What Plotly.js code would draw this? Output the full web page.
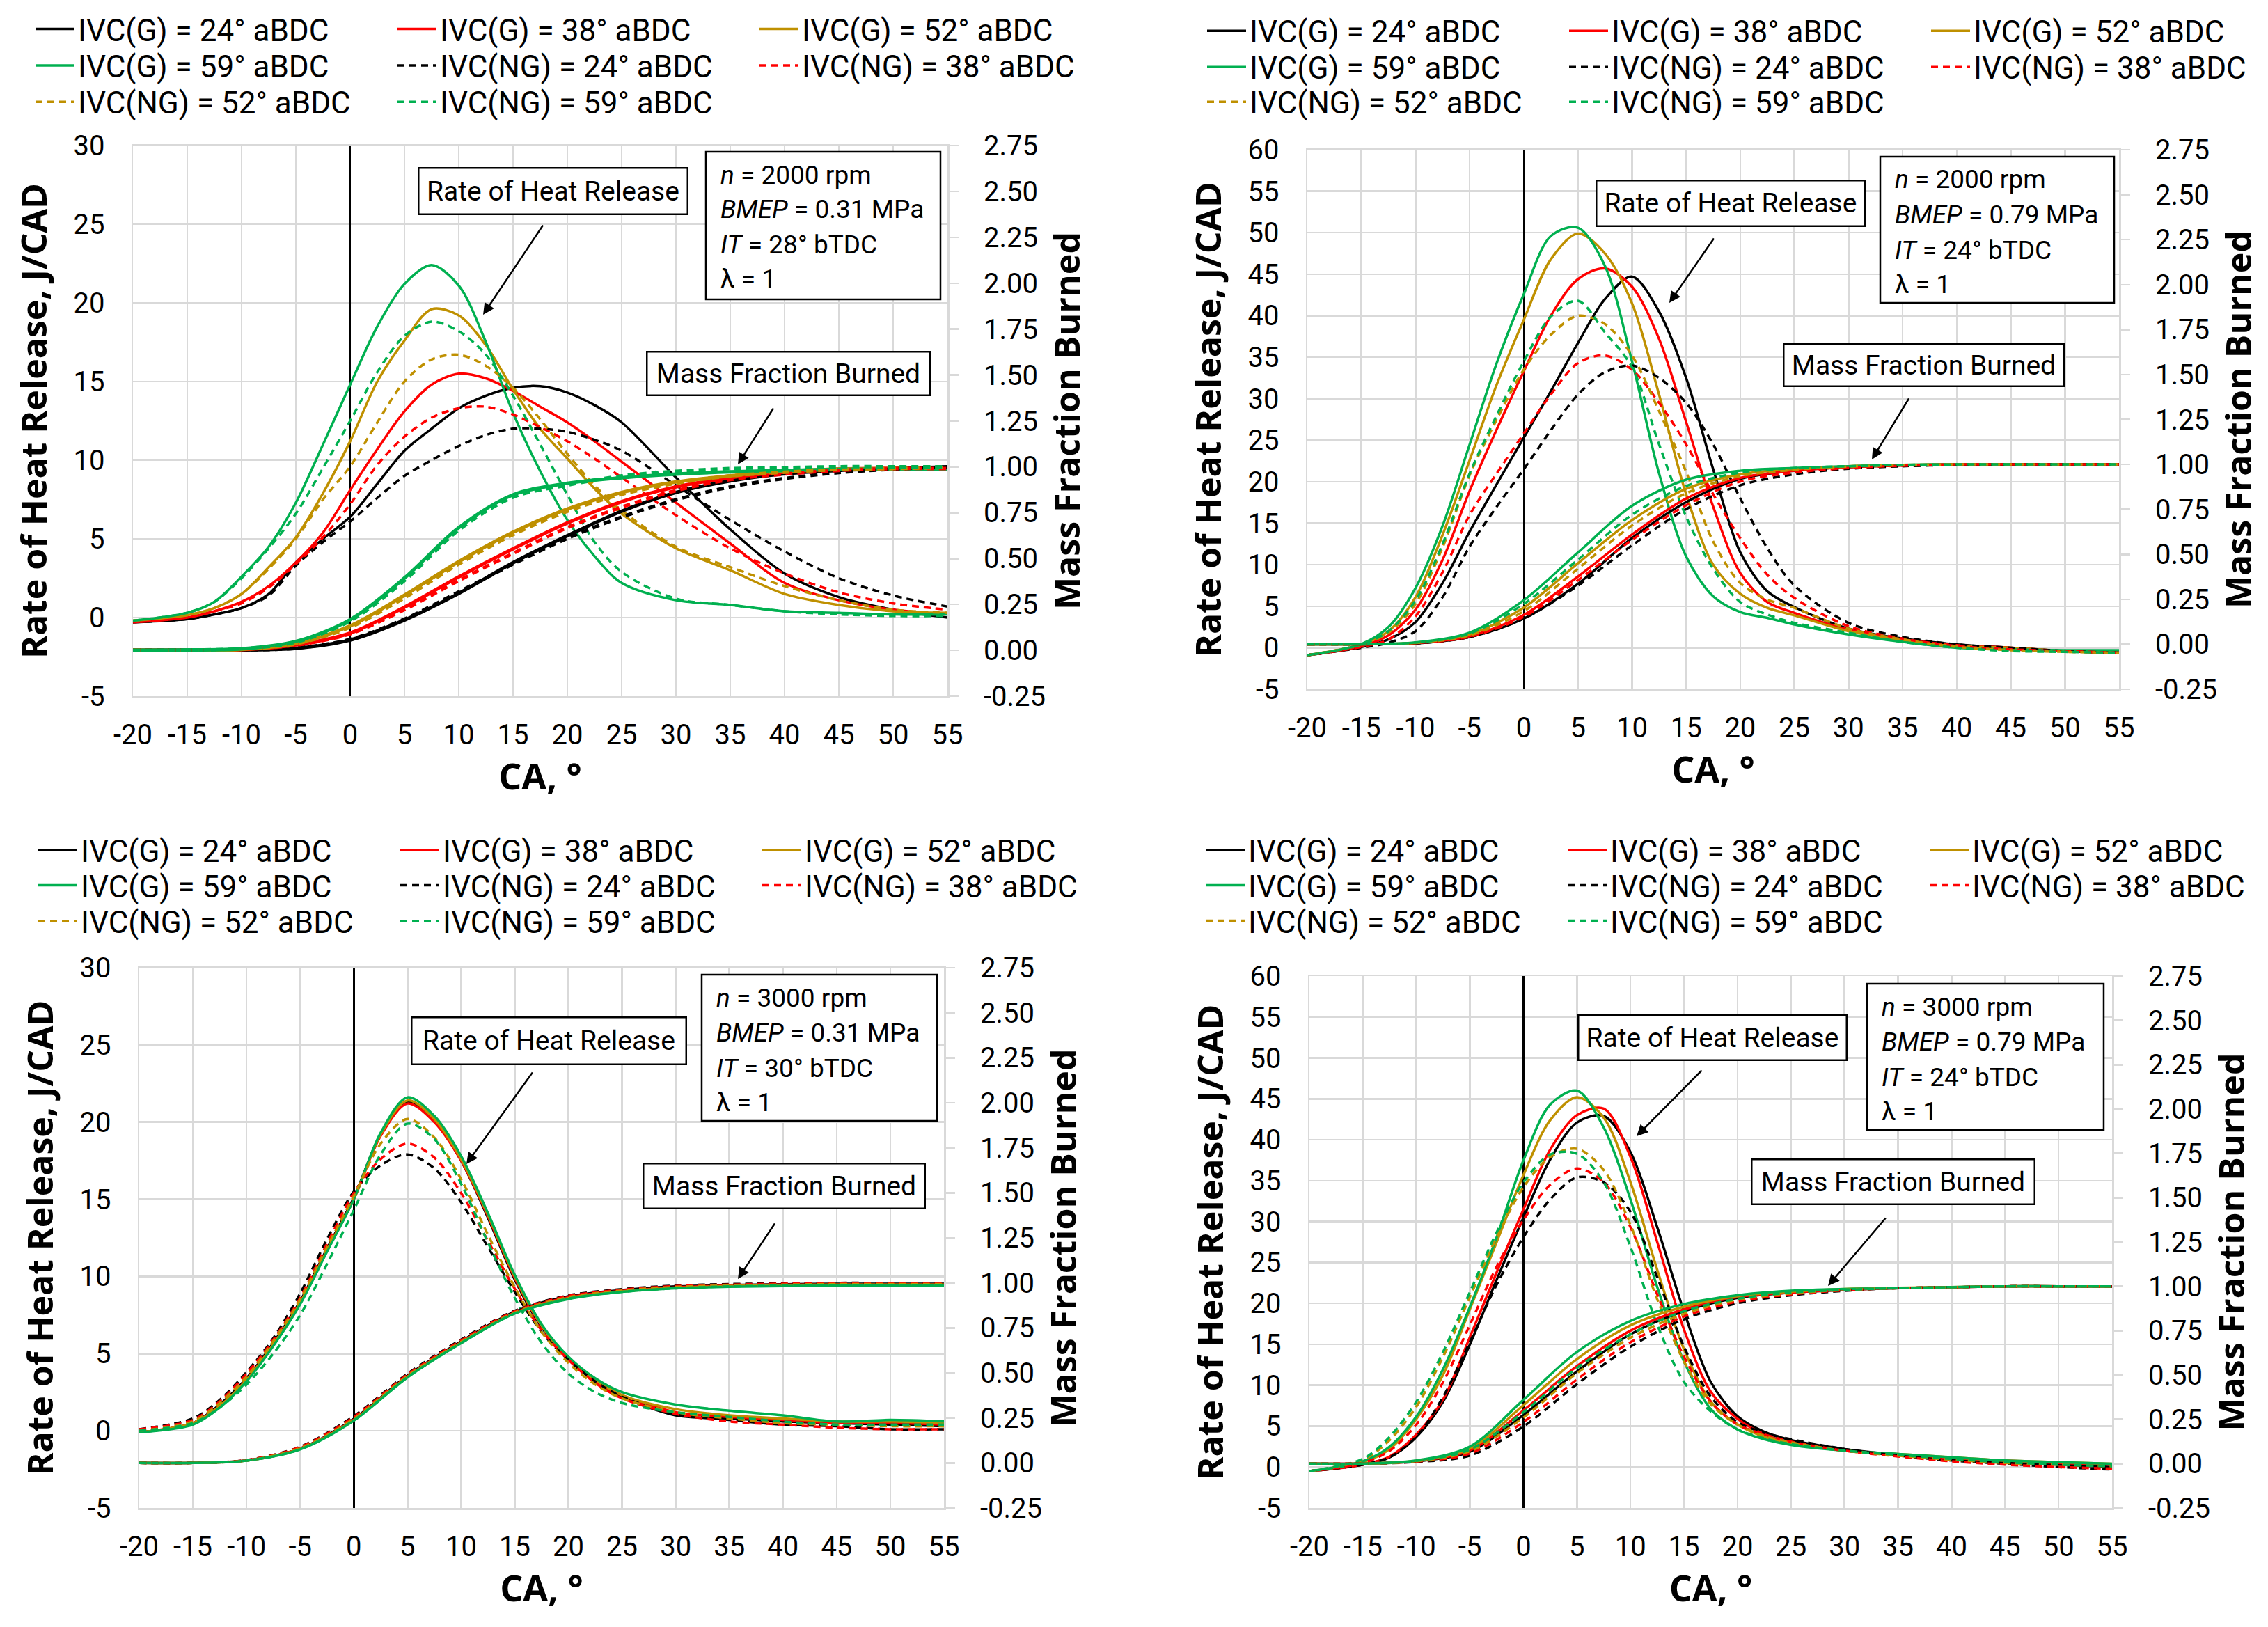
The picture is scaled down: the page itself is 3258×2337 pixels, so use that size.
<!DOCTYPE html>
<html><head><meta charset="utf-8">
<script src="https://cdn.plot.ly/plotly-3.0.1.min.js"></script>
<style>html,body{margin:0;padding:0;background:#fff;}#chart{width:3258px;height:2337px;}</style>
</head><body><div id="chart"></div>
<script>
// ---------------- data ----------------
const caHR = [-20,-15,-12.5,-10,-7.5,-5,-2.5,0,2.5,5,7.5,10,12.5,15,17.5,20,22.5,25,30,35,40,45,50,55];
const caMFB = [-20,-15,-10,-5,0,5,10,15,20,25,30,35,40,45,50,55];
const caTickVals = [-20,-15,-10,-5,0,5,10,15,20,25,30,35,40,45,50,55];
const caTickText = ['-20','-15','-10','-5','0','5','10','15','20','25','30','35','40','45','50','55'];
const hrTickValsLow = [-5,0,5,10,15,20,25,30];
const hrTickTextLow = ['-5','0','5','10','15','20','25','30'];
const hrTickValsHigh = [-5,0,5,10,15,20,25,30,35,40,45,50,55,60];
const hrTickTextHigh = ['-5','0','5','10','15','20','25','30','35','40','45','50','55','60'];
const mfbTickVals = [-0.25,0,0.25,0.5,0.75,1,1.25,1.5,1.75,2,2.25,2.5,2.75];
const mfbTickText = ['-0.25','0.00','0.25','0.50','0.75','1.00','1.25','1.50','1.75','2.00','2.25','2.50','2.75'];
const seriesNames = ['IVC(G) = 24° aBDC','IVC(G) = 38° aBDC','IVC(G) = 52° aBDC','IVC(G) = 59° aBDC',
                     'IVC(NG) = 24° aBDC','IVC(NG) = 38° aBDC','IVC(NG) = 52° aBDC','IVC(NG) = 59° aBDC'];
const speedText = ['2000','2000','3000','3000'];
const bmepText = ['0.31','0.79','0.31','0.79'];
const itText = ['28','24','30','24'];

// Panel TL: n = 2000 rpm, BMEP = 0.31 MPa
const hrTL_G24 = [-0.3,-0.1,0.2,0.6,1.5,3.5,5.0,6.4,8.5,10.6,12.0,13.3,14.1,14.6,14.7,14.3,13.5,12.4,8.9,5.6,2.8,1.3,0.5,0.0];
const hrTL_G38 = [-0.3,0.0,0.4,1.0,2.0,3.5,5.4,8.1,10.7,13.1,14.8,15.5,15.2,14.4,13.4,12.4,11.2,9.9,7.3,4.7,2.2,1.1,0.5,0.2];
const hrTL_G52 = [-0.2,0.15,0.6,1.5,3.2,5.1,7.9,11.2,15.0,17.6,19.6,19.2,17.3,14.5,12.0,10.1,8.2,6.6,4.4,3.0,1.5,0.8,0.4,0.3];
const hrTL_G59 = [-0.2,0.3,1.0,2.6,4.5,7.3,11.0,14.8,18.5,21.2,22.4,21.1,17.5,13.0,9.3,6.2,3.9,2.2,1.1,0.8,0.4,0.3,0.2,0.2];
const hrTL_NG24 = [-0.3,-0.1,0.2,0.6,1.4,3.3,4.8,6.1,7.6,9.0,10.0,10.9,11.6,12.0,12.0,11.8,11.3,10.6,8.4,6.2,4.2,2.5,1.4,0.7];
const hrTL_NG38 = [-0.3,0.0,0.4,0.9,1.9,3.4,5.1,7.2,9.7,11.5,12.7,13.3,13.4,12.9,12.1,11.2,10.1,8.9,6.5,4.4,2.8,1.6,0.9,0.5];
const hrTL_NG52 = [-0.2,0.15,0.6,1.5,3.1,5.0,7.5,9.6,12.4,15.0,16.4,16.7,16.0,14.6,12.6,10.4,8.4,6.8,4.5,3.2,2.0,1.1,0.5,0.3];
const hrTL_NG59 = [-0.2,0.3,1.0,2.5,4.4,6.6,9.5,12.5,15.6,17.9,18.8,18.2,16.7,14.1,11.0,7.8,4.8,2.9,1.2,0.8,0.4,0.2,0.1,0.1];
const mfbTL_G24 = [0,0,0.002,0.011,0.056,0.165,0.31,0.477,0.624,0.758,0.86,0.923,0.962,0.98,0.99,0.996];
const mfbTL_G38 = [0,0,0.004,0.03,0.094,0.235,0.40,0.553,0.694,0.81,0.89,0.94,0.97,0.987,0.99,0.99];
const mfbTL_G52 = [0,0,0.005,0.037,0.133,0.30,0.483,0.643,0.77,0.86,0.917,0.95,0.975,0.987,0.99,0.996];
const mfbTL_G59 = [0,0.002,0.008,0.048,0.167,0.394,0.668,0.847,0.91,0.94,0.96,0.972,0.98,0.985,0.987,0.987];
const mfbTL_NG24 = [0,0,0.002,0.012,0.059,0.17,0.318,0.47,0.61,0.726,0.82,0.89,0.936,0.968,0.987,1.0];
const mfbTL_NG38 = [0,0,0.004,0.028,0.09,0.222,0.38,0.528,0.668,0.78,0.87,0.93,0.96,0.98,0.99,0.99];
const mfbTL_NG52 = [0,0,0.005,0.035,0.126,0.286,0.47,0.63,0.757,0.85,0.91,0.95,0.97,0.985,0.99,0.996];
const mfbTL_NG59 = [0,0.002,0.008,0.045,0.16,0.38,0.655,0.834,0.9,0.95,0.975,0.99,0.995,1,1,1];

// Panel TR: n = 2000 rpm, BMEP = 0.79 MPa
const hrTR_G24 = [-0.9,0.1,1.0,3.1,7.8,14.0,19.7,25.3,30.9,36.7,42.0,44.7,40.5,32.5,21.5,11.5,6.8,4.9,2.3,1.1,0.4,0.0,-0.4,-0.6];
const hrTR_G38 = [-0.9,0.2,1.5,4.6,10.6,18.9,26.3,33.3,40.0,44.4,45.7,43.5,37.2,27.2,17.0,9.0,5.5,4.2,2.2,1.0,0.3,0.0,-0.4,-0.6];
const hrTR_G52 = [-0.9,0.4,2.0,6.1,13.6,22.6,31.7,39.5,46.8,49.9,47.5,41.5,30.5,18.5,10.0,6.5,4.8,3.9,2.0,0.9,0.2,0.0,-0.4,-0.6];
const hrTR_G59 = [-0.9,0.45,2.5,7.2,14.7,24.5,34.3,42.6,49.6,50.6,46.0,34.5,21.0,11.0,6.2,4.3,3.6,2.8,1.6,0.7,0.0,-0.2,-0.3,-0.3];
const hrTR_NG24 = [-0.9,0.0,0.6,2.0,6.1,12.2,17.0,21.5,26.2,30.5,33.2,34.0,32.5,29.5,24.5,18.0,12.0,7.5,3.0,1.3,0.4,0.0,-0.4,-0.6];
const hrTR_NG38 = [-0.9,0.1,1.0,3.8,9.1,16.0,21.0,25.8,30.5,34.3,35.2,33.5,29.5,24.5,18.5,13.2,8.8,6.0,2.6,1.1,0.2,-0.2,-0.4,-0.6];
const hrTR_NG52 = [-0.9,0.4,1.8,5.3,12.1,20.8,27.5,33.5,37.7,40.0,39.0,35.2,28.5,21.2,12.8,7.8,5.8,4.8,2.3,1.0,0.1,-0.3,-0.5,-0.6];
const hrTR_NG59 = [-0.9,0.4,2.0,5.7,12.5,21.0,28.0,34.5,39.9,41.8,38.0,33.8,24.5,15.8,9.5,5.5,4.0,3.0,1.8,0.7,0.0,-0.4,-0.5,-0.6];
const mfbTR_G24 = [0,0,0.005,0.04,0.143,0.336,0.59,0.79,0.92,0.965,0.985,0.995,1,1,1,1];
const mfbTR_G38 = [0,0,0.006,0.045,0.163,0.376,0.61,0.81,0.925,0.965,0.985,0.995,1,1,1,1];
const mfbTR_G52 = [0,0,0.008,0.055,0.204,0.45,0.69,0.864,0.945,0.975,0.99,0.997,1,1,1,1];
const mfbTR_G59 = [0,0,0.01,0.065,0.245,0.51,0.77,0.915,0.965,0.98,0.99,0.997,1,1,1,1];
const mfbTR_NG24 = [0,0,0.005,0.04,0.143,0.326,0.55,0.752,0.884,0.945,0.976,0.99,0.997,1,1,1];
const mfbTR_NG38 = [0,0,0.006,0.042,0.153,0.356,0.58,0.773,0.905,0.955,0.98,0.993,1,1,1,1];
const mfbTR_NG52 = [0,0,0.007,0.05,0.184,0.42,0.66,0.84,0.935,0.97,0.988,0.996,1,1,1,1];
const mfbTR_NG59 = [0,0,0.009,0.06,0.224,0.47,0.72,0.88,0.955,0.98,0.99,0.997,1,1,1,1];

// Panel BL: n = 3000 rpm, BMEP = 0.31 MPa
const hrBL_G24 = [-0.1,0.5,1.7,3.4,5.7,8.4,11.8,15.1,19.2,21.3,20.1,17.5,13.8,9.8,6.7,4.7,3.2,2.2,1.0,0.8,0.6,0.5,0.4,0.3];
const hrBL_G38 = [-0.1,0.5,1.6,3.3,5.6,8.3,11.7,15.0,19.1,21.2,20.0,17.5,13.9,9.9,6.8,4.7,3.2,2.3,1.2,0.9,0.7,0.5,0.5,0.4];
const hrBL_G52 = [-0.1,0.5,1.6,3.3,5.6,8.3,11.7,15.0,19.2,21.4,20.2,17.6,14.0,10.0,6.8,4.7,3.3,2.3,1.4,1.0,0.8,0.6,0.6,0.5];
const hrBL_G59 = [-0.1,0.4,1.5,3.2,5.5,8.2,11.6,15.0,19.3,21.6,20.4,17.8,14.1,10.1,6.9,4.8,3.4,2.5,1.7,1.3,1.0,0.6,0.7,0.6];
const hrBL_NG24 = [0.1,0.8,2.0,3.8,6.0,8.9,12.4,15.5,17.2,17.9,17.0,14.8,11.9,9.0,6.4,4.6,3.2,2.2,1.1,0.7,0.4,0.3,0.1,0.1];
const hrBL_NG38 = [0.1,0.7,1.9,3.7,5.9,8.6,12.1,15.4,17.6,18.6,17.7,15.4,12.3,9.2,6.5,4.6,3.1,2.1,1.1,0.6,0.4,0.2,0.1,0.1];
const hrBL_NG52 = [0.0,0.6,1.8,3.5,5.8,8.5,11.9,15.2,18.6,20.2,19.0,16.3,12.7,9.3,6.4,4.4,3.0,2.1,1.2,0.8,0.5,0.4,0.3,0.3];
const hrBL_NG59 = [0.0,0.5,1.5,3.0,5.0,7.5,10.8,14.3,17.9,19.9,18.9,16.0,12.2,8.6,5.7,3.7,2.5,1.8,1.2,0.9,0.6,0.4,0.4,0.4];
const mfbBL_G24 = [0,0,0.014,0.08,0.245,0.485,0.675,0.84,0.925,0.96,0.98,0.988,0.992,0.995,0.995,0.995];
const mfbBL_G38 = [0,0,0.014,0.08,0.24,0.48,0.67,0.835,0.92,0.955,0.975,0.985,0.99,0.99,0.99,0.99];
const mfbBL_G52 = [0,0,0.013,0.078,0.238,0.478,0.668,0.832,0.915,0.952,0.972,0.982,0.987,0.99,0.99,0.99];
const mfbBL_G59 = [0,0,0.013,0.075,0.235,0.475,0.665,0.83,0.91,0.95,0.97,0.978,0.982,0.985,0.985,0.985];
const mfbBL_NG24 = [0,0,0.016,0.09,0.26,0.495,0.685,0.845,0.93,0.965,0.985,0.993,0.997,1,1,1];
const mfbBL_NG38 = [0,0,0.016,0.088,0.255,0.49,0.68,0.842,0.927,0.962,0.982,0.99,0.995,0.998,0.998,0.998];
const mfbBL_NG52 = [0,0,0.014,0.082,0.245,0.483,0.672,0.835,0.92,0.957,0.977,0.986,0.99,0.993,0.993,0.993];
const mfbBL_NG59 = [0,0,0.013,0.076,0.237,0.476,0.666,0.83,0.912,0.95,0.97,0.98,0.985,0.988,0.988,0.988];

// Panel BR: n = 3000 rpm, BMEP = 0.79 MPa
const hrBR_G24 = [-0.5,0.3,1.2,3.7,8.0,15.0,22.9,30.5,37.6,42.1,42.9,38.5,29.3,19.0,10.4,6.2,4.3,3.3,2.2,1.5,1.0,0.6,0.3,0.0];
const hrBR_G38 = [-0.5,0.3,1.3,4.0,8.3,15.9,23.8,31.5,38.8,43.0,43.8,37.9,27.5,16.8,9.2,5.9,4.0,3.0,2.0,1.5,1.1,0.8,0.5,0.3];
const hrBR_G52 = [-0.5,0.6,2.2,5.9,11.3,19.3,27.5,35.7,42.4,45.2,42.7,34.8,24.1,14.4,8.0,5.2,3.7,2.9,2.0,1.6,1.2,0.8,0.6,0.4];
const hrBR_G59 = [-0.5,0.7,2.5,6.2,12.0,19.6,28.1,37.5,44.3,46.0,41.5,32.7,22.0,12.9,7.1,4.6,3.4,2.7,2.0,1.6,1.2,0.8,0.6,0.4];
const hrBR_NG24 = [-0.5,0.3,1.2,3.7,8.6,15.3,22.3,28.1,32.7,35.4,34.8,31.2,23.2,14.7,8.6,5.5,4.2,3.4,2.2,1.4,0.8,0.4,0.0,-0.3];
const hrBR_NG38 = [-0.5,0.5,2.0,5.2,10.4,17.4,24.5,30.2,34.5,36.5,34.8,29.3,21.1,13.5,8.0,5.2,4.0,3.1,2.0,1.3,0.7,0.3,0.0,-0.2];
const hrBR_NG52 = [-0.5,0.9,3.3,7.4,13.5,20.8,28.1,34.2,37.9,38.9,36.3,29.6,20.5,12.9,7.7,5.2,3.8,3.0,2.0,1.4,0.9,0.5,0.3,0.1];
const hrBR_NG59 = [-0.5,1.0,3.7,8.0,14.1,21.4,28.7,34.8,38.2,38.3,34.8,26.9,17.4,10.4,6.8,4.6,3.5,2.8,2.0,1.5,1.0,0.6,0.3,0.1];
const mfbBR_G24 = [0,0,0.013,0.068,0.275,0.52,0.73,0.86,0.935,0.965,0.98,0.99,0.995,1,1,1];
const mfbBR_G38 = [0,0,0.014,0.075,0.30,0.55,0.75,0.87,0.94,0.965,0.98,0.99,0.995,1,1,1];
const mfbBR_G52 = [0,0,0.016,0.085,0.33,0.59,0.78,0.885,0.945,0.97,0.985,0.992,0.996,1,1,1];
const mfbBR_G59 = [0,0,0.018,0.096,0.36,0.63,0.805,0.90,0.95,0.975,0.985,0.99,0.996,1,1,1];
const mfbBR_NG24 = [0,0,0.01,0.046,0.21,0.448,0.66,0.814,0.905,0.95,0.975,0.99,0.995,1,1,1];
const mfbBR_NG38 = [0,0,0.012,0.058,0.235,0.475,0.685,0.83,0.915,0.955,0.978,0.99,0.995,1,1,1];
const mfbBR_NG52 = [0,0,0.014,0.07,0.26,0.51,0.71,0.845,0.925,0.96,0.98,0.99,0.995,1,1,1];
const mfbBR_NG59 = [0,0,0.016,0.08,0.29,0.54,0.73,0.86,0.93,0.965,0.98,0.99,0.995,1,1,1];

// ---------------- styling / layout helpers ----------------
const W = 3258, H = 2337;
const FONT_N = 'Roboto,"Liberation Sans",Arial,sans-serif';
const FONT_B = '"Open Sans","Noto Sans","DejaVu Sans",sans-serif';
const GRID = '#d9d9d9';
const COLORS = ['#000000','#ff0000','#bf9000','#00b050','#000000','#ff0000','#bf9000','#00b050'];
const DASHES = ['solid','solid','solid','solid','10px,7px','10px,7px','10px,7px','10px,7px'];
const LEG_W = [449,449,400,449,449,400,449,449];   // legend text-slot width per series (last column narrower)

const panels = [
  { hr:[hrTL_G24,hrTL_G38,hrTL_G52,hrTL_G59,hrTL_NG24,hrTL_NG38,hrTL_NG52,hrTL_NG59],
    mfb:[mfbTL_G24,mfbTL_G38,mfbTL_G52,mfbTL_G59,mfbTL_NG24,mfbTL_NG38,mfbTL_NG52,mfbTL_NG59],
    box:[191,209,1361,1000], ymax:30, mfbW:5,
    legX:46, legY:[42,94.5,146.6],
    rohr:[600,240,989,309], info:[1014,218,1351,430], mfbBox:[928,504,1337,569],
    arrR:[781,322,694,452], arrM:[1112,585,1060,667] },
  { hr:[hrTR_G24,hrTR_G38,hrTR_G52,hrTR_G59,hrTR_NG24,hrTR_NG38,hrTR_NG52,hrTR_NG59],
    mfb:[mfbTR_G24,mfbTR_G38,mfbTR_G52,mfbTR_G59,mfbTR_NG24,mfbTR_NG38,mfbTR_NG52,mfbTR_NG59],
    box:[1878,215,3044,990], ymax:60, mfbW:3.5,
    legX:1729, legY:[44.6,96.7,146.6],
    rohr:[2292,258,2680,326], info:[2701,225,3037,435], mfbBox:[2561,493,2966,556],
    arrR:[2463,341,2398,435], arrM:[2743,571,2689,660] },
  { hr:[hrBL_G24,hrBL_G38,hrBL_G52,hrBL_G59,hrBL_NG24,hrBL_NG38,hrBL_NG52,hrBL_NG59],
    mfb:[mfbBL_G24,mfbBL_G38,mfbBL_G52,mfbBL_G59,mfbBL_NG24,mfbBL_NG38,mfbBL_NG52,mfbBL_NG59],
    box:[200,1390,1356,2166], ymax:30, mfbW:3.5,
    legX:50, legY:[1221.6,1272,1323.6],
    rohr:[590,1460,987,1530], info:[1008,1400,1346,1610], mfbBox:[923,1670,1330,1737],
    arrR:[766,1539,670,1672], arrM:[1114,1756,1060,1837] },
  { hr:[hrBR_G24,hrBR_G38,hrBR_G52,hrBR_G59,hrBR_NG24,hrBR_NG38,hrBR_NG52,hrBR_NG59],
    mfb:[mfbBR_G24,mfbBR_G38,mfbBR_G52,mfbBR_G59,mfbBR_NG24,mfbBR_NG38,mfbBR_NG52,mfbBR_NG59],
    box:[1881,1402,3034,2166], ymax:60, mfbW:3.5,
    legX:1727, legY:[1221.6,1272,1322.8],
    rohr:[2266,1457,2654,1524], info:[2682,1413,3022,1623], mfbBox:[2515,1664,2924,1731],
    arrR:[2446,1536,2351,1632], arrM:[2710,1748,2626,1847] }
];

const px = X => X / W;
const py = Y => 1 - Y / H;
const tickFont = {family: FONT_N, size: 40, color: '#000'};
const titleFont = {family: FONT_B, size: 50, color: '#000', weight: 'bold'};
const boxFont = {family: FONT_N, size: 39, color: '#000'};
const infoFont = {family: FONT_N, size: 37, color: '#000'};

const traces = [];
const layout = {
  width: W, height: H,
  margin: {l:0, r:0, t:0, b:0, pad:0},
  paper_bgcolor: '#fff', plot_bgcolor: '#fff',
  showlegend: true,
  annotations: [], shapes: []
};

panels.forEach((p, i) => {
  const xn = i === 0 ? '' : String(i + 1);
  const yL = 2 * i + 1, yR = 2 * i + 2;
  const xId = 'x' + xn, yLId = yL === 1 ? 'y' : 'y' + yL, yRId = 'y' + yR;
  const [X0, Y0, X1, Y1] = p.box;

  layout['xaxis' + xn] = {
    domain: [px(X0), px(X1)], anchor: yLId, range: [-20, 55],
    tickmode: 'array', tickvals: caTickVals, ticktext: caTickText,
    showgrid: true, gridcolor: GRID, gridwidth: 2.5,
    zeroline: true, zerolinecolor: '#000', zerolinewidth: 2.5,
    showline: true, mirror: true, linecolor: GRID, linewidth: 2.5,
    ticks: '', ticklabelstandoff: 18, tickfont: tickFont,
    title: {text: 'CA, °', font: Object.assign({}, titleFont, {size: 52}), standoff: 15},
    automargin: false, fixedrange: true
  };
  layout[yL === 1 ? 'yaxis' : 'yaxis' + yL] = {
    domain: [py(Y1), py(Y0)], anchor: xId, range: [-5, p.ymax],
    tickmode: 'array',
    tickvals: p.ymax === 30 ? hrTickValsLow : hrTickValsHigh,
    ticktext: p.ymax === 30 ? hrTickTextLow : hrTickTextHigh,
    showgrid: true, gridcolor: GRID, gridwidth: 2.5, zeroline: false,
    showline: true, mirror: true, linecolor: GRID, linewidth: 2.5,
    ticks: '', ticklabelstandoff: 30, tickfont: tickFont,
    title: {text: 'Rate of Heat Release, J/CAD', font: titleFont, standoff: 22},
    automargin: false, fixedrange: true
  };
  layout['yaxis' + yR] = {
    overlaying: yLId, side: 'right', anchor: xId, range: [-0.25, 2.75],
    tickmode: 'array', tickvals: mfbTickVals, ticktext: mfbTickText,
    showgrid: false, zeroline: false, showline: false,
    ticks: 'outside', ticklen: 15, tickwidth: 2.5, tickcolor: GRID,
    ticklabelstandoff: 28, tickfont: tickFont,
    title: {text: 'Mass Fraction Burned', font: titleFont, standoff: 14},
    automargin: false, fixedrange: true
  };

  for (let s = 0; s < 8; s++) {
    const row = s < 3 ? 0 : (s < 6 ? 1 : 2);
    const legNum = i * 3 + row + 1;
    traces.push({
      type: 'scatter', mode: 'lines', x: caHR, y: p.hr[s],
      xaxis: xId, yaxis: yLId, name: seriesNames[s],
      legend: legNum === 1 ? 'legend' : 'legend' + legNum, legendwidth: LEG_W[s],
      line: {color: COLORS[s], width: 3.5, dash: DASHES[s], shape: 'spline', smoothing: 0.9},
      hoverinfo: 'skip'
    });
  }
  for (let s = 0; s < 8; s++) {
    traces.push({
      type: 'scatter', mode: 'lines', x: caMFB, y: p.mfb[s],
      xaxis: xId, yaxis: yRId, name: seriesNames[s], showlegend: false,
      line: {color: COLORS[s], width: p.mfbW, dash: DASHES[s], shape: 'spline', smoothing: 0.9},
      hoverinfo: 'skip'
    });
  }

  // legends (three rows per panel)
  for (let r = 0; r < 3; r++) {
    const legNum = i * 3 + r + 1;
    layout[legNum === 1 ? 'legend' : 'legend' + legNum] = {
      x: px(p.legX), y: py(p.legY[r]), xanchor: 'left', yanchor: 'middle',
      orientation: 'h', entrywidth: 449, entrywidthmode: 'pixels', itemwidth: 56,
      font: {family: FONT_N, size: 44, color: '#000'},
      bgcolor: 'rgba(0,0,0,0)', borderwidth: 0, traceorder: 'normal',
      itemclick: false, itemdoubleclick: false
    };
  }

  // labelled boxes
  const boxAnn = (b, txt) => ({
    xref: 'paper', yref: 'paper', x: px((b[0] + b[2]) / 2), y: py((b[1] + b[3]) / 2),
    xanchor: 'center', yanchor: 'middle', text: txt, showarrow: false,
    font: boxFont, bgcolor: '#fff', bordercolor: '#000', borderwidth: 2.5, borderpad: 4,
    width: b[2] - b[0] - 13, height: b[3] - b[1] - 13, align: 'center'
  });
  layout.annotations.push(boxAnn(p.rohr, 'Rate of Heat Release'));
  layout.annotations.push(boxAnn(p.mfbBox, 'Mass Fraction Burned'));

  // arrows
  [p.arrR, p.arrM].forEach(a => {
    layout.annotations.push({
      xref: 'paper', yref: 'paper', x: px(a[2]), y: py(a[3]),
      ax: a[0] - a[2], ay: a[1] - a[3], showarrow: true, text: '',
      arrowhead: 2, arrowsize: 1.3, arrowwidth: 2.5, arrowcolor: '#000', standoff: 0
    });
  });

  // operating-condition box
  const ib = p.info;
  layout.shapes.push({
    type: 'rect', xref: 'paper', yref: 'paper',
    x0: px(ib[0]), x1: px(ib[2]), y0: py(ib[3]), y1: py(ib[1]),
    line: {color: '#000', width: 2.5}, fillcolor: '#fff', layer: 'above'
  });
  const lines = ['<i>n</i> = ' + speedText[i] + ' rpm',
                 '<i>BMEP</i> = ' + bmepText[i] + ' MPa',
                 '<i>IT</i> = ' + itText[i] + '° bTDC',
                 'λ = 1'];
  const offs = [33, 83, 134, 183];
  lines.forEach((t, k) => {
    layout.annotations.push({
      xref: 'paper', yref: 'paper', x: px(ib[0] + 19), y: py(ib[1] + offs[k]),
      xanchor: 'left', yanchor: 'middle', text: t, showarrow: false, font: infoFont
    });
  });
});

Plotly.newPlot('chart', traces, layout, {staticPlot: true, displayModeBar: false});
</script>
</body></html>
